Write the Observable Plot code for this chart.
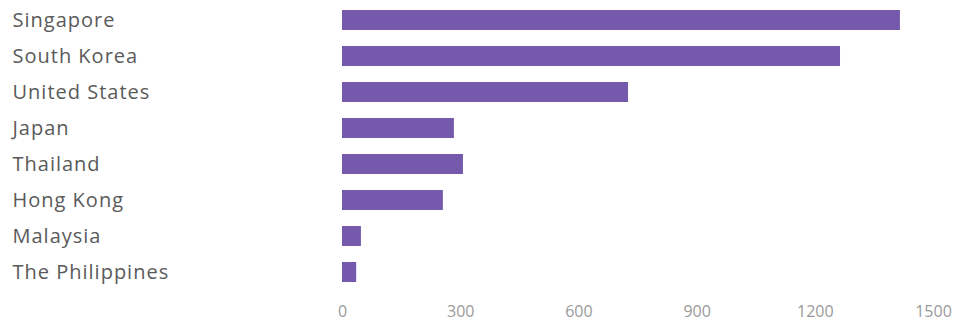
<!DOCTYPE html>
<html>
<head>
<meta charset="utf-8">
<script src="https://cdn.jsdelivr.net/npm/d3@7"></script>
<script src="https://cdn.jsdelivr.net/npm/@observablehq/plot@0.6"></script>
<style>
  html, body { margin: 0; padding: 0; background: #fff; }
  #chart svg { display: block; }
  #chart .yax text { letter-spacing: 1px; }
</style>
</head>
<body>
<div id="chart"></div>
<script>
const countries = ["Singapore", "South Korea", "United States", "Japan", "Thailand", "Hong Kong", "Malaysia", "The Philippines"];
const values = [1416, 1264, 726, 284, 307, 256, 48, 36];
const xTicks = [0, 300, 600, 900, 1200, 1500];

const data = countries.map((c, i) => ({country: c, value: values[i]}));

const chart = Plot.plot({
  width: 961,
  height: 321,
  marginLeft: 342,
  marginRight: 28,
  marginTop: 0,
  marginBottom: 29,
  style: {background: "#fff", overflow: "visible"},
  x: {domain: [0, 1500], ticks: xTicks, label: null},
  y: {domain: countries, paddingInner: 0.45, paddingOuter: 0.2, label: null},
  marks: [
    Plot.gridX(xTicks, {stroke: "#e8e8e8", strokeOpacity: 1, strokeWidth: 1, y1: 0, y2: 300}),
    Plot.barX(data, {y: "country", x: "value", fill: "#7459ad"}),
    Plot.axisX({ticks: xTicks, tickFormat: d3.format("d"), tickSize: 0, tickPadding: 13, fontSize: 16, fill: "#9a9a9a", fontFamily: "Open Sans, sans-serif", label: null}),
    Plot.axisY({className: "yax", tickSize: 0, tickPadding: 0, textAnchor: "start", dx: -330, fontSize: 20, fill: "#5a5a5a", fontFamily: "Open Sans, sans-serif", label: null})
  ]
});
document.getElementById("chart").appendChild(chart);
</script>
</body>
</html>
